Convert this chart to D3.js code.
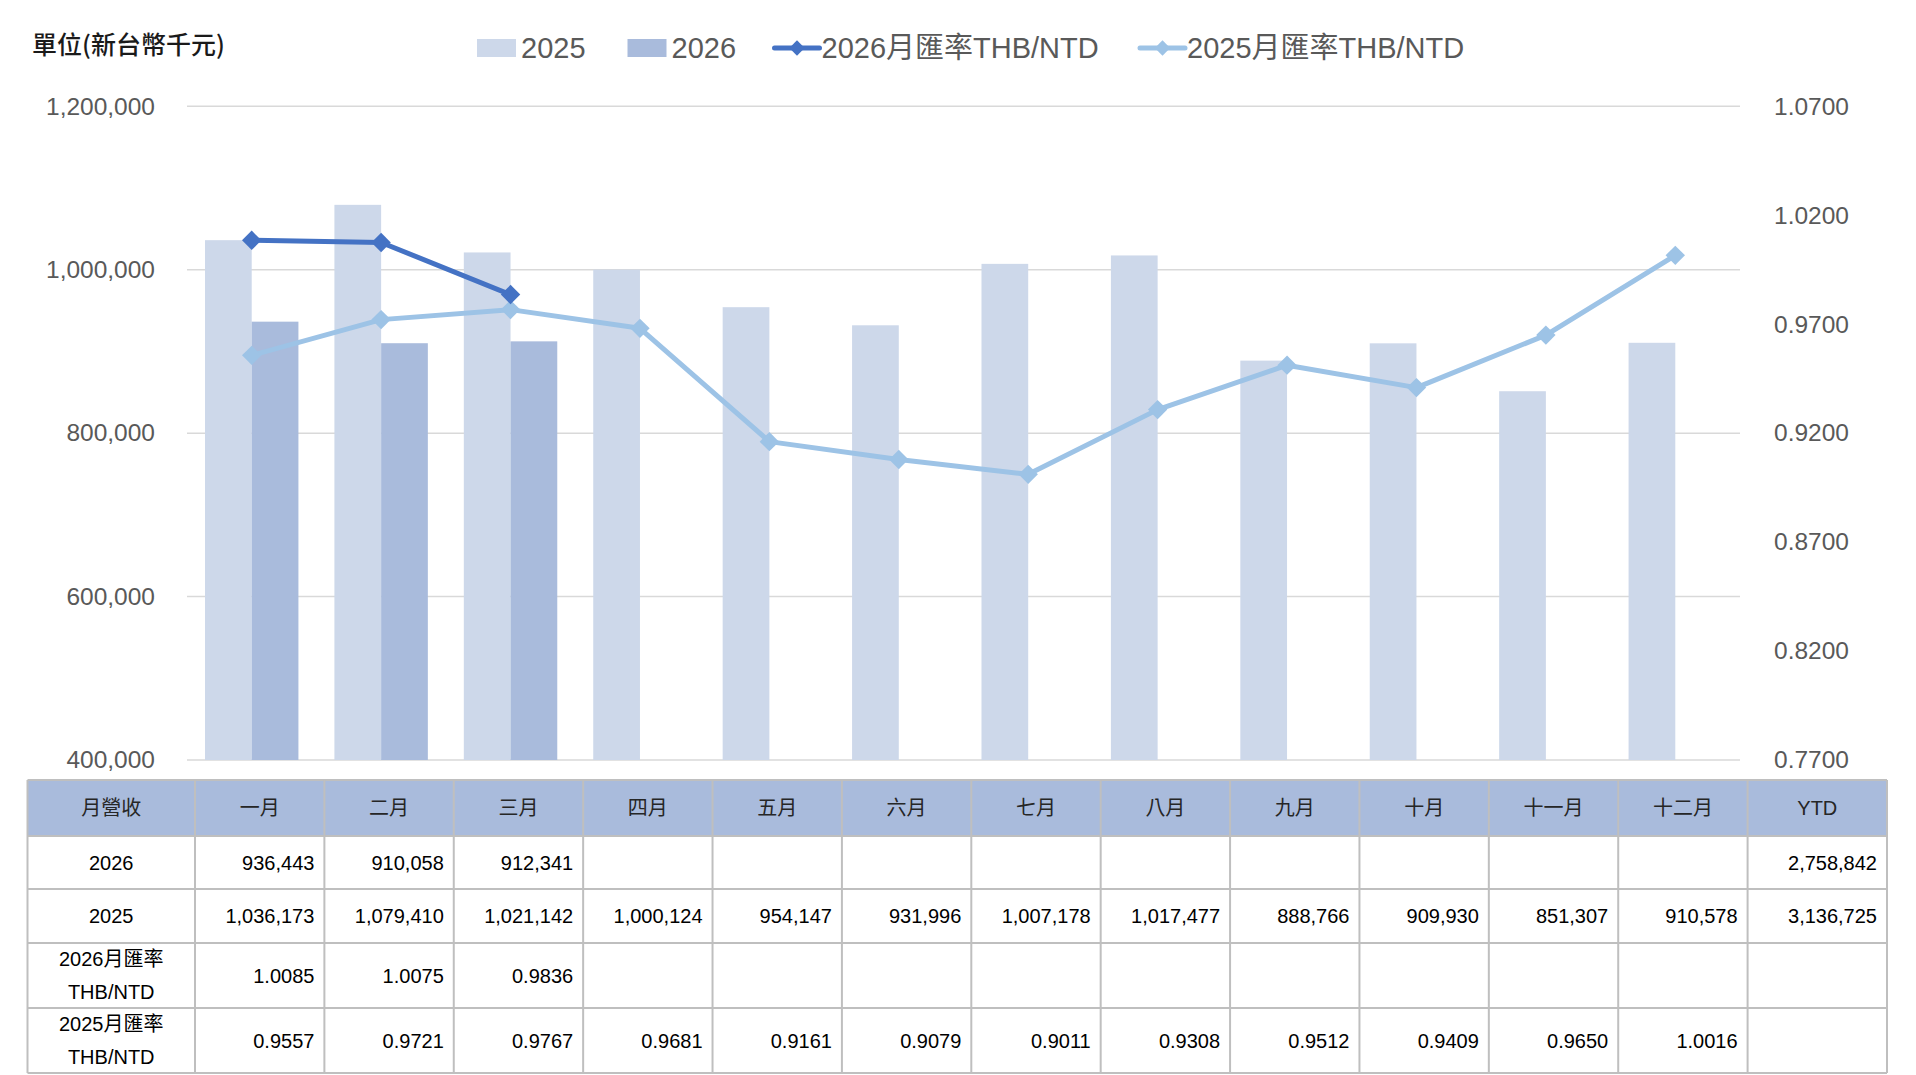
<!DOCTYPE html>
<html><head><meta charset="utf-8">
<script src="https://cdn.jsdelivr.net/npm/d3@7"></script>
<style>
html,body{margin:0;padding:0;background:#fff;}
svg{display:block;}
</style></head>
<body>
<svg id="chart" width="1916" height="1075"></svg>
<script>
const months = ["一月","二月","三月","四月","五月","六月","七月","八月","九月","十月","十一月","十二月"];
const rev2025 = [1036173,1079410,1021142,1000124,954147,931996,1007178,1017477,888766,909930,851307,910578];
const rev2026 = [936443,910058,912341];
const rate2026 = [1.0085,1.0075,0.9836];
const rate2025 = [0.9557,0.9721,0.9767,0.9681,0.9161,0.9079,0.9011,0.9308,0.9512,0.9409,0.9650,1.0016];
const leftTicks = [400000,600000,800000,1000000,1200000];
const rightTicks = [0.77,0.82,0.87,0.92,0.97,1.02,1.07];
const ytd = {"2026":2758842,"2025":3136725};
const tableHeader = "月營收";
const rowLabels = [["2026"],["2025"],["2026月匯率","THB/NTD"],["2025月匯率","THB/NTD"]];
const legendItems = [
  {label:"2025", type:"bar", color:"#CDD8EA"},
  {label:"2026", type:"bar", color:"#A9BBDC"},
  {label:"2026月匯率THB/NTD", type:"line", color:"#4472C4"},
  {label:"2025月匯率THB/NTD", type:"line", color:"#9DC3E6"}
];

const svg = d3.select("#chart");
const FONT = "'Liberation Sans', Arial, 'Noto Sans CJK TC', sans-serif";
const CJK = "'Noto Sans CJK TC', 'Liberation Sans', sans-serif";

const plotL = 187, plotR = 1740, plotT = 106.3, plotB = 760;
const x = d3.scaleBand().domain(months).range([plotL, plotR]).paddingInner(0.278).paddingOuter(0.139);
const xc = d3.scaleBand().domain(months).range([plotL, plotR]);
const sub = d3.scaleBand().domain(["2025","2026"]).range([0, x.bandwidth()]);
const yL = d3.scaleLinear().domain([400000,1200000]).range([plotB, plotT]);
const yR = d3.scaleLinear().domain([0.77,1.07]).range([plotB, plotT]);

// gridlines
svg.append("g").selectAll("line").data(leftTicks).join("line")
  .attr("x1", plotL).attr("x2", plotR)
  .attr("y1", d=>yL(d)).attr("y2", d=>yL(d))
  .attr("stroke", "#D9D9D9").attr("stroke-width", 1.5);

// left axis
const axL = d3.axisLeft(yL).tickValues(leftTicks).tickFormat(d3.format(",")).tickSize(0).tickPadding(0);
const gL = svg.append("g").attr("transform", `translate(155,0)`).call(axL);
gL.select(".domain").remove();
gL.selectAll("text").attr("font-family", FONT).attr("font-size", 24.5).attr("fill", "#595959");

// right axis
const axR = d3.axisRight(yR).tickValues(rightTicks).tickFormat(d3.format(".4f")).tickSize(0).tickPadding(0);
const gR = svg.append("g").attr("transform", `translate(1774,0)`).call(axR);
gR.select(".domain").remove();
gR.selectAll("text").attr("font-family", FONT).attr("font-size", 24.5).attr("fill", "#595959");

// bars
svg.append("g").selectAll("rect").data(rev2025).join("rect")
  .attr("x", (d,i)=>x(months[i]) + sub("2025"))
  .attr("width", sub.bandwidth())
  .attr("y", d=>yL(d)).attr("height", d=>plotB - yL(d))
  .attr("fill", "#CDD8EA");
svg.append("g").selectAll("rect").data(rev2026).join("rect")
  .attr("x", (d,i)=>x(months[i]) + sub("2026"))
  .attr("width", sub.bandwidth())
  .attr("y", d=>yL(d)).attr("height", d=>plotB - yL(d))
  .attr("fill", "#A9BBDC");

// lines
function drawLine(data, color){
  const line = d3.line().x((d,i)=>xc(months[i]) + xc.bandwidth()/2).y(d=>yR(d));
  svg.append("path").datum(data).attr("d", line).attr("fill","none")
    .attr("stroke", color).attr("stroke-width", 5).attr("stroke-linejoin","round");
  svg.append("g").selectAll("path").data(data).join("path")
    .attr("d", d3.symbol().type(d3.symbolDiamond2).size(240))
    .attr("transform", (d,i)=>`translate(${xc(months[i]) + xc.bandwidth()/2},${yR(d)})`)
    .attr("fill", color);
}
drawLine(rate2025, "#9DC3E6");
drawLine(rate2026, "#4472C4");

// title
svg.append("text").attr("x", 32).attr("y", 54).text("單位(新台幣千元)")
  .attr("font-family", CJK).attr("font-size", 25).attr("font-weight", 500).attr("fill", "#1a1a1a");

// legend
const legX = [477, 627.5, 774.5, 1140];
legendItems.forEach((it, k)=>{
  const g = svg.append("g").attr("transform", `translate(${legX[k]},48)`);
  let tx;
  if(it.type==="bar"){
    g.append("rect").attr("x",0).attr("y",-9).attr("width",39).attr("height",18).attr("fill", it.color);
    tx = 44;
  } else {
    g.append("line").attr("x1",0).attr("x2",45).attr("y1",0).attr("y2",0).attr("stroke", it.color).attr("stroke-width",5).attr("stroke-linecap","round");
    g.append("path").attr("d", d3.symbol().type(d3.symbolDiamond2).size(150)).attr("transform","translate(22.5,0)").attr("fill", it.color);
    tx = 47;
  }
  g.append("text").attr("x", tx).attr("y", 0).attr("dy","0.36em").text(it.label)
    .attr("font-family", FONT).attr("font-size", 29).attr("fill", "#595959");
});

// table
const tL = 27.5, tFirst = 195, tMonR = 1747.6, tR = 1887;
const col = d3.scaleBand().domain(months).range([tFirst, tMonR]);
const rowEdges = [780, 836, 889, 943, 1008, 1073];
const tbl = svg.append("g");
tbl.append("rect").attr("x", tL).attr("y", rowEdges[0]).attr("width", tR - tL).attr("height", rowEdges[1]-rowEdges[0]).attr("fill", "#A9BBDC");
rowEdges.forEach(y=>{
  tbl.append("line").attr("x1", tL).attr("x2", tR).attr("y1", y).attr("y2", y).attr("stroke", "#BFBFBF").attr("stroke-width", 2);
});
const colEdges = [tL, ...months.map(m=>col(m)), tMonR, tR];
colEdges.forEach(xv=>{
  tbl.append("line").attr("x1", xv).attr("x2", xv).attr("y1", rowEdges[0]).attr("y2", rowEdges[5]).attr("stroke", "#BFBFBF").attr("stroke-width", 2);
});
const rowMid = i => (rowEdges[i] + rowEdges[i+1]) / 2;
tbl.append("text").attr("x", (tL+tFirst)/2).attr("y", rowMid(0)).attr("dy","0.36em").attr("text-anchor","middle")
  .text(tableHeader).attr("font-family", CJK).attr("font-size", 20).attr("fill","#262626");
months.forEach(m=>{
  tbl.append("text").attr("x", col(m)+col.bandwidth()/2).attr("y", rowMid(0)).attr("dy","0.36em").attr("text-anchor","middle")
    .text(m).attr("font-family", CJK).attr("font-size", 20).attr("fill","#262626");
});
tbl.append("text").attr("x", (tMonR+tR)/2).attr("y", rowMid(0)).attr("dy","0.36em").attr("text-anchor","middle")
  .text("YTD").attr("font-family", FONT).attr("font-size", 20).attr("fill","#262626");
rowLabels.forEach((lines, r)=>{
  const cy = rowMid(r+1);
  lines.forEach((t, j)=>{
    const off = lines.length === 1 ? 0 : (j === 0 ? -16.5 : 16.5);
    tbl.append("text").attr("x", (tL+tFirst)/2).attr("y", cy + off).attr("dy","0.36em").attr("text-anchor","middle")
      .text(t).attr("font-family", FONT).attr("font-size", 20).attr("fill","#000");
  });
});
const fmtN = d3.format(",");
const fmtR = d3.format(".4f");
const rowsData = [rev2026.map(fmtN), rev2025.map(fmtN), rate2026.map(fmtR), rate2025.map(fmtR)];
rowsData.forEach((vals, r)=>{
  vals.forEach((v, i)=>{
    tbl.append("text").attr("x", col(months[i]) + col.bandwidth() - 10).attr("y", rowMid(r+1)).attr("dy","0.36em")
      .attr("text-anchor","end").text(v).attr("font-family", FONT).attr("font-size", 20).attr("fill","#000");
  });
});
[["2026",0],["2025",1]].forEach(([k,r])=>{
  tbl.append("text").attr("x", tR - 10).attr("y", rowMid(r+1)).attr("dy","0.36em").attr("text-anchor","end")
    .text(fmtN(ytd[k])).attr("font-family", FONT).attr("font-size", 20).attr("fill","#000");
});
</script>
</body></html>
